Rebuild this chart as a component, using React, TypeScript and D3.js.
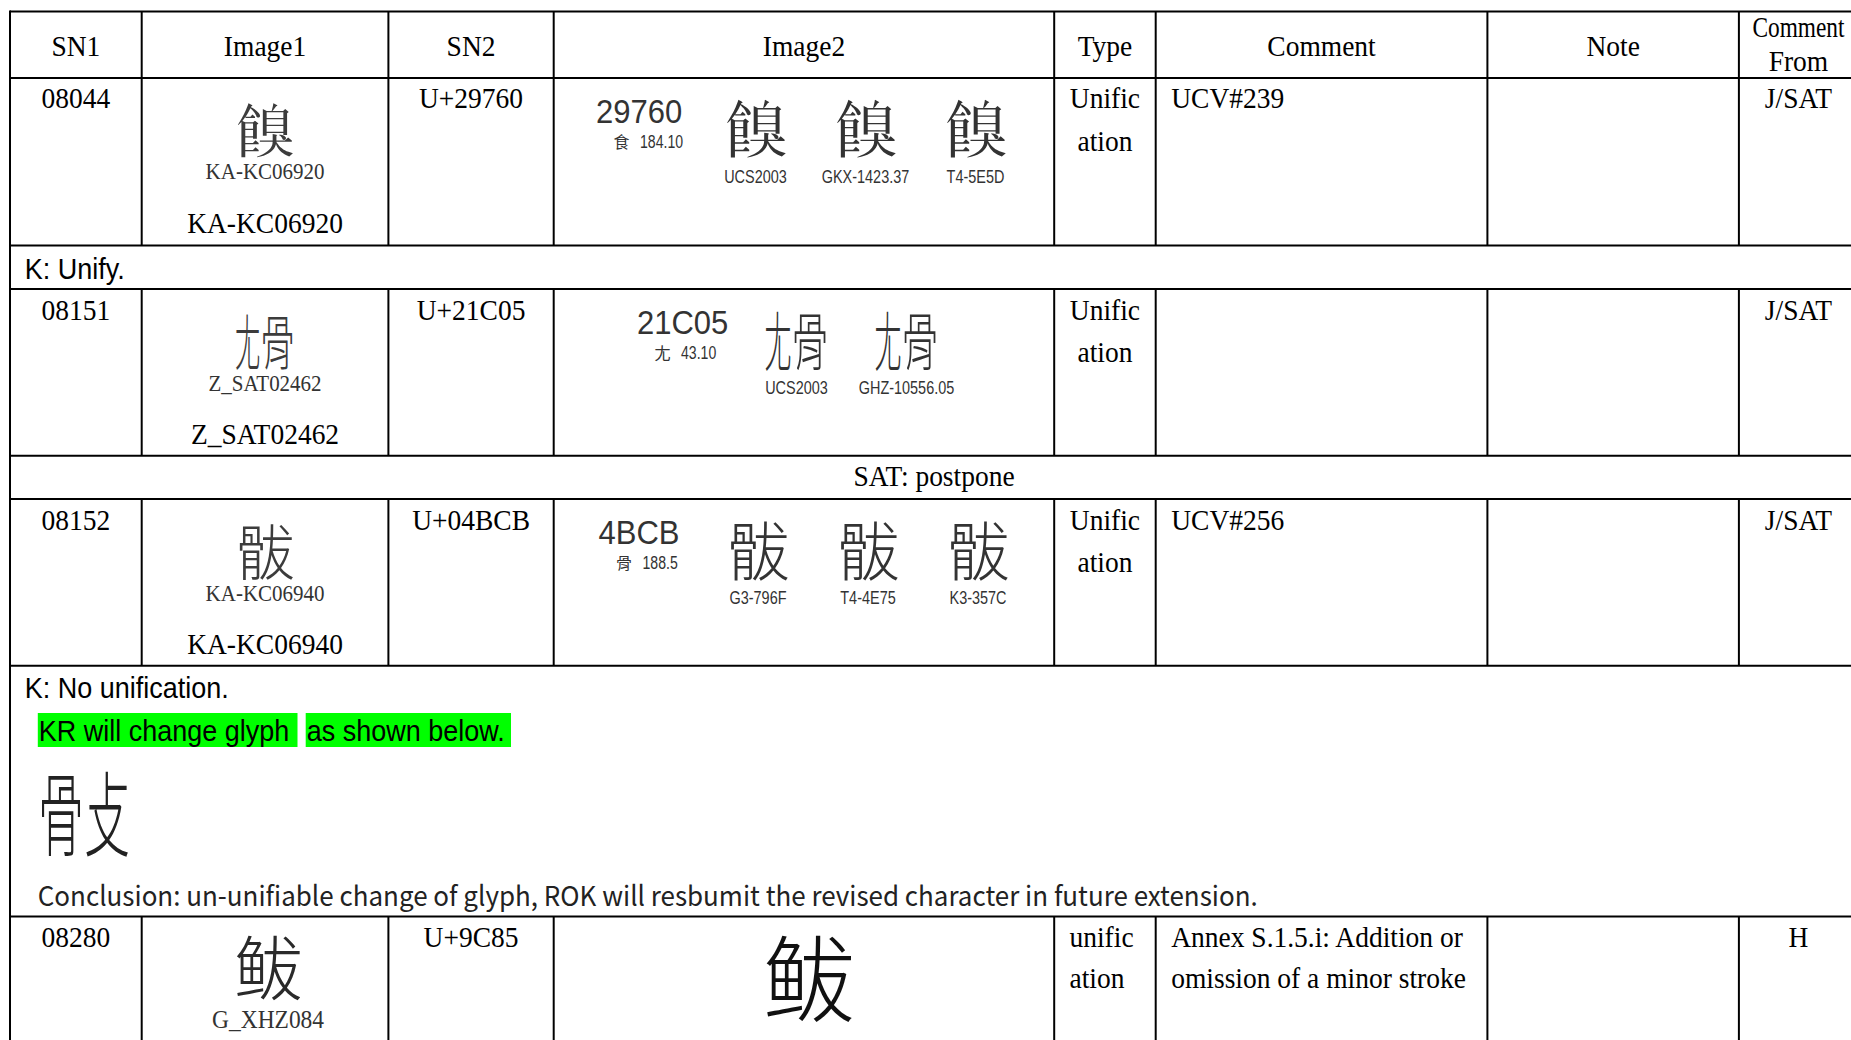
import React, { useEffect, useRef } from "react";
import * as d3 from "d3";

// ---- table content ----
const HEADERS = ["SN1", "Image1", "SN2", "Image2", "Type", "Comment", "Note", "Comment\nFrom"];
const SN1 = ["08044", "08151", "08152", "08280"];
const SN2 = ["U+29760", "U+21C05", "U+04BCB", "U+9C85"];
const IMAGE1_CHARS = ["𩝠", "𡰅", "䯋", "鲅"];
const IMAGE1_SOURCES = ["KA-KC06920", "Z_SAT02462", "KA-KC06940", "G_XHZ084"];
const IMAGE1_CAPTIONS = ["KA-KC06920", "Z_SAT02462", "KA-KC06940", ""];
const IMAGE2_CODES = ["29760", "21C05", "4BCB"];
const IMAGE2_RADICALS = ["食", "尢", "骨"];
const IMAGE2_STROKES = ["184.10", "43.10", "188.5"];
const IMAGE2_SOURCES = [
  ["UCS2003", "GKX-1423.37", "T4-5E5D"],
  ["UCS2003", "GHZ-10556.05"],
  ["G3-796F", "T4-4E75", "K3-357C"],
];
const TYPES = [["Unific", "ation"], ["Unific", "ation"], ["Unific", "ation"], ["unific", "ation"]];
const COMMENTS = [["UCV#239"], [], ["UCV#256"], ["Annex S.1.5.i: Addition or", "omission of a minor stroke"]];
const COMMENT_FROM = ["J/SAT", "J/SAT", "J/SAT", "H"];
const NOTE_UNIFY = "K: Unify.";
const NOTE_POSTPONE = "SAT: postpone";
const NOTE_NO_UNIFY = "K: No unification.";
const NOTE_HIGHLIGHTS = ["KR will change glyph", "as shown below."];
const NEW_GLYPH_PARTS = ["骨", "攴"];
const NOTE_CONCLUSION =
  "Conclusion: un-unifiable change of glyph, ROK will resbumit the revised character in future extension.";
// characters the installed fonts lack, drawn from their components
const COMPONENTS: Record<string, string[]> = { "𡰅": ["尢", "骨"] };

// ---- layout ----
const W = 1851;
const H = 1040;
const SERIF = "'Liberation Serif', 'Times New Roman', serif";
const SANS = "'Liberation Sans', Arial, sans-serif";
const CJK = "'Noto Sans CJK TC', 'Noto Sans CJK SC', 'Noto Sans CJK JP', 'Noto Sans CJK KR', sans-serif";
const KR = "'Noto Sans CJK KR', 'Noto Sans', sans-serif";
const SY = 1.1;
const COL_EDGES = [10, 141.7, 388.4, 553.7, 1054.2, 1155.7, 1487.4, 1738.9, 1858];
const ROW_EDGES = [11.5, 77.9, 245.5, 289, 455.7, 499, 665.8, 916.5, 1090];
const ENTRY_ROWS = [1, 3, 5, 7];
const IMAGE2_LEFT = [596, 637, 598.5];
const GLYPH_STEP = 110;

type Opt = {
  size?: number;
  family?: string;
  anchor?: string;
  fill?: string;
  sx?: number;
  sy?: number;
  len?: number;
  weight?: number;
};

function addText(g: any, s: string, x: number, y: number, o: Opt = {}) {
  const t = g
    .append("text")
    .attr("transform", `translate(${x},${y}) scale(${o.sx ?? 1},${o.sy ?? SY})`)
    .attr("font-family", o.family ?? SERIF)
    .attr("font-size", o.size ?? 27.5)
    .attr("text-anchor", o.anchor ?? "start")
    .attr("fill", o.fill ?? "#000")
    .text(s);
  if (o.len) t.attr("textLength", o.len).attr("lengthAdjust", "spacingAndGlyphs");
  if (o.weight) t.attr("font-weight", o.weight);
  return t;
}

// two components squeezed side by side into one square
function addComposed(g: any, parts: string[], cx: number, cy: number, size: number, fill: string, f = 0.5, family = CJK) {
  const x0 = cx - size / 2;
  addText(g, parts[0], x0 + (size * f) / 2, cy + size * 0.38, {
    size,
    family,
    anchor: "middle",
    fill,
    sx: f,
    sy: 1,
    weight: 300,
  });
  addText(g, parts[1], x0 + size * f + (size * (1 - f)) / 2, cy + size * 0.38, {
    size,
    family,
    anchor: "middle",
    fill,
    sx: 1 - f,
    sy: 1,
    weight: 300,
  });
}

// cjk glyph placed by its ink centre
function addGlyph(g: any, ch: string, cx: number, cy: number, size: number, fill = "#333") {
  if (COMPONENTS[ch]) return addComposed(g, COMPONENTS[ch], cx, cy, size, fill, 0.42);
  return addText(g, ch, cx, cy + size * 0.38, { size, family: CJK, anchor: "middle", fill, sy: 1, weight: 300 });
}

export default function App() {
  const ref = useRef<SVGSVGElement>(null);

  useEffect(() => {
    document.body.style.margin = "0";
    document.body.style.overflow = "hidden";
    const svg = d3.select(ref.current);
    svg.selectAll("*").remove();

    const colMid = (i: number) => (COL_EDGES[i] + COL_EDGES[i + 1]) / 2;
    const right = COL_EDGES[COL_EDGES.length - 1];

    svg.append("rect").attr("width", W).attr("height", H).attr("fill", "#fff");

    const grid = svg.append("g").attr("stroke", "#000").attr("stroke-width", 2);
    ROW_EDGES.slice(0, -1).forEach((y) => {
      grid.append("line").attr("x1", COL_EDGES[0]).attr("x2", right).attr("y1", y).attr("y2", y);
    });
    grid
      .append("line")
      .attr("x1", COL_EDGES[0])
      .attr("x2", COL_EDGES[0])
      .attr("y1", ROW_EDGES[0] - 1)
      .attr("y2", H);
    [0, ...ENTRY_ROWS].forEach((r) => {
      COL_EDGES.slice(1, -1).forEach((x) => {
        grid
          .append("line")
          .attr("x1", x)
          .attr("x2", x)
          .attr("y1", ROW_EDGES[r])
          .attr("y2", ROW_EDGES[r + 1]);
      });
    });

    const g = svg.append("g");

    // header
    HEADERS.forEach((h, i) => {
      const lines = h.split("\n");
      if (lines.length === 1) {
        addText(g, h, colMid(i), 55.5, { anchor: "middle" });
      } else {
        addText(g, lines[0], colMid(i), 36.6, { anchor: "middle", sx: 0.85 });
        addText(g, lines[1], colMid(i), 70.8, { anchor: "middle" });
      }
    });

    // entries
    ENTRY_ROWS.forEach((r, k) => {
      const top = ROW_EDGES[r];
      const base = top + 30.5;
      addText(g, SN1[k], colMid(0), base, { anchor: "middle" });
      addText(g, SN2[k], colMid(2), base, { anchor: "middle" });

      // image1
      if (IMAGE1_CAPTIONS[k]) {
        addGlyph(g, IMAGE1_CHARS[k], colMid(1), top + 53, 60, "#3c3c3c");
        addText(g, IMAGE1_SOURCES[k], colMid(1), top + 101.5, { anchor: "middle", size: 21, fill: "#333" });
        addText(g, IMAGE1_CAPTIONS[k], colMid(1), top + 154.8, { anchor: "middle" });
      } else {
        addGlyph(g, IMAGE1_CHARS[k], colMid(1) + 3, top + 52, 70, "#2a2a2a");
        addText(g, IMAGE1_SOURCES[k], colMid(1) + 3, top + 111, {
          anchor: "middle",
          size: 23,
          fill: "#333",
          len: 112,
        });
      }

      // image2
      if (k < IMAGE2_CODES.length) {
        const left = IMAGE2_LEFT[k];
        addText(g, IMAGE2_CODES[k], left, top + 45, { family: SANS, size: 31, fill: "#333", sy: 1.05 });
        addText(g, IMAGE2_RADICALS[k], left + 25.5, top + 69.6, {
          family: CJK,
          size: 16,
          anchor: "middle",
          fill: "#333",
          sy: 1,
        });
        addText(g, IMAGE2_STROKES[k], left + 44, top + 69.6, { family: SANS, size: 16, fill: "#333", sx: 0.88 });
        IMAGE2_SOURCES[k].forEach((src, j) => {
          const cx = left + 159.5 + j * GLYPH_STEP;
          addGlyph(g, IMAGE1_CHARS[k], cx, top + 52, 64, "#333");
          addText(g, src, cx, top + 105, { family: SANS, size: 17, anchor: "middle", fill: "#333", sx: 0.85 });
        });
      } else {
        addGlyph(g, IMAGE1_CHARS[k], 808.6, top + 63, 94, "#111");
      }

      // type
      TYPES[k].forEach((line, j) => {
        if (k < 3) addText(g, line, colMid(4), base + j * 42.5, { anchor: "middle" });
        else addText(g, line, COL_EDGES[4] + 15.3, base + j * 41, {});
      });

      COMMENTS[k].forEach((line, j) => {
        addText(g, line, COL_EDGES[5] + 15.5, base + j * 41, {});
      });

      addText(g, COMMENT_FROM[k], colMid(7), base, { anchor: "middle" });
    });

    // spanning note rows
    addText(g, NOTE_UNIFY, 24.8, 278.6, { family: SANS, size: 27 });
    addText(g, NOTE_POSTPONE, (COL_EDGES[0] + right) / 2, 486, { anchor: "middle" });
    addText(g, NOTE_NO_UNIFY, 24.8, 697.7, { family: SANS, size: 27 });

    const boxes = [
      { x: 37.8, w: 259.7 },
      { x: 305.7, w: 205.3 },
    ];
    NOTE_HIGHLIGHTS.forEach((s, i) => {
      g.append("rect")
        .attr("x", boxes[i].x)
        .attr("y", 713)
        .attr("width", boxes[i].w)
        .attr("height", 34)
        .attr("fill", "#00ff00");
      addText(g, s, boxes[i].x + 1, 741, { family: SANS, size: 27 });
    });

    addComposed(g, NEW_GLYPH_PARTS, 84, 814, 92, "#222", 0.5, KR);
    addText(g, NOTE_CONCLUSION, 37.8, 905.5, { family: KR, size: 25, fill: "#222", len: 1220 });
  }, []);

  return (
    <svg
      ref={ref}
      width={W}
      height={H}
      style={{ position: "absolute", left: 0, top: 0, display: "block" }}
    />
  );
}
